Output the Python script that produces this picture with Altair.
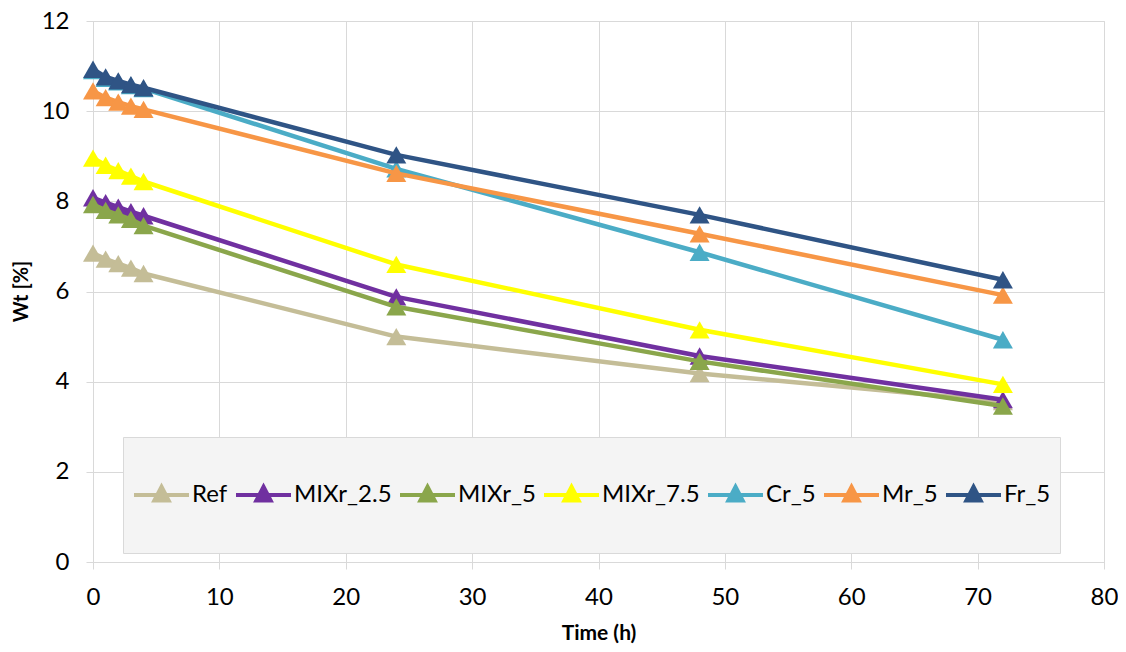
import altair as alt
import pandas as pd

times = [0, 1, 2, 3, 4, 24, 48, 72]
series_names = ["Ref", "MIXr_2.5", "MIXr_5", "MIXr_7.5", "Cr_5", "Mr_5", "Fr_5"]
ref = [6.85, 6.72, 6.62, 6.52, 6.40, 5.00, 4.18, 3.56]
mixr_25 = [8.08, 7.97, 7.87, 7.77, 7.68, 5.88, 4.57, 3.60]
mixr_5 = [7.93, 7.80, 7.70, 7.60, 7.46, 5.66, 4.45, 3.46]
mixr_75 = [8.96, 8.80, 8.68, 8.56, 8.44, 6.60, 5.15, 3.94]
cr_5 = [10.90, 10.73, 10.65, 10.57, 10.50, 8.72, 6.87, 4.93]
mr_5 = [10.45, 10.30, 10.20, 10.11, 10.04, 8.62, 7.28, 5.92]
fr_5 = [10.93, 10.76, 10.67, 10.59, 10.52, 9.03, 7.70, 6.26]
colors = ["#c4bd97", "#7030a0", "#8aa64b", "#ffff00", "#4bacc6", "#f79646", "#2f5485"]

values = [ref, mixr_25, mixr_5, mixr_75, cr_5, mr_5, fr_5]
rows = []
for name, vals in zip(series_names, values):
    for t, v in zip(times, vals):
        rows.append({"series": name, "time": t, "wt": v})
df = pd.DataFrame(rows)

FONT = "Lato"
GRID = "#d9d9d9"

color_scale = alt.Scale(domain=series_names, range=colors)
legend_kw = dict(
    title=None,
    orient="none",
    legendX=30,
    legendY=416,
    direction="horizontal",
    columns=7,
    padding=9,
    fillColor="#f4f4f4",
    strokeColor=GRID,
    clipHeight=98,
    labelFont=FONT,
    labelFontSize=24,
    labelColor="#000000",
    labelOffset=1,
    columnPadding=6,
    symbolSize=3025,
    symbolStrokeWidth=4,
    symbolType="M-1,0H1M0,-0.3L0.26,0.2L-0.26,0.2Z",
    symbolOpacity=1,
    labelLimit=300,
)

x_enc = alt.X(
    "time:Q",
    scale=alt.Scale(domain=[0, 80], nice=False),
    axis=alt.Axis(
        values=list(range(0, 81, 10)),
        title="Time (h)",
        titleFont=FONT,
        titleFontSize=21,
        titleFontWeight="bold",
        titleColor="#000000",
        titleBaseline="middle",
        titleY=71,
        labelFont=FONT,
        labelFontSize=24,
        labelColor="#000000",
        labelPadding=16,
        labelFlush=False,
        tickSize=7,
        tickColor=GRID,
        domainColor=GRID,
        gridColor=GRID,
        grid=True,
    ),
)
y_enc = alt.Y(
    "wt:Q",
    scale=alt.Scale(domain=[0, 12], nice=False),
    axis=alt.Axis(
        values=list(range(0, 13, 2)),
        title="Wt [%]",
        titleFont=FONT,
        titleFontSize=20,
        titleFontWeight="bold",
        titleColor="#000000",
        titleBaseline="middle",
        titleX=-72,
        titleY=270,
        titleAngle=270,
        labelFont=FONT,
        labelFontSize=24,
        labelColor="#000000",
        labelPadding=17,
        labelFlush=False,
        tickSize=7,
        tickColor=GRID,
        domainColor=GRID,
        gridColor=GRID,
        grid=True,
    ),
)

layers = []
for name in series_names:
    sub = alt.Chart(df).transform_filter(alt.datum.series == name)
    color_enc = alt.Color("series:N", scale=color_scale, legend=alt.Legend(**legend_kw))
    line = sub.mark_line(strokeWidth=4.5, strokeJoin="round", strokeCap="round").encode(
        x=x_enc, y=y_enc, color=color_enc
    )
    pts = sub.mark_point(shape="triangle-up", filled=True, size=400, opacity=1).encode(
        x=x_enc, y=y_enc, color=color_enc
    )
    layers += [line, pts]

chart = (
    alt.layer(*layers)
    .properties(
        width=1011,
        height=541,
        autosize=alt.AutoSizeParams(type="none"),
        padding={"left": 85, "top": 13, "right": 14, "bottom": 82},
    )
    .configure_view(fill="#f4f4f4", stroke=GRID, strokeWidth=1)
    .configure(background="#ffffff")
)

chart.save("out.html", embed_options={"renderer": "svg", "actions": False})
